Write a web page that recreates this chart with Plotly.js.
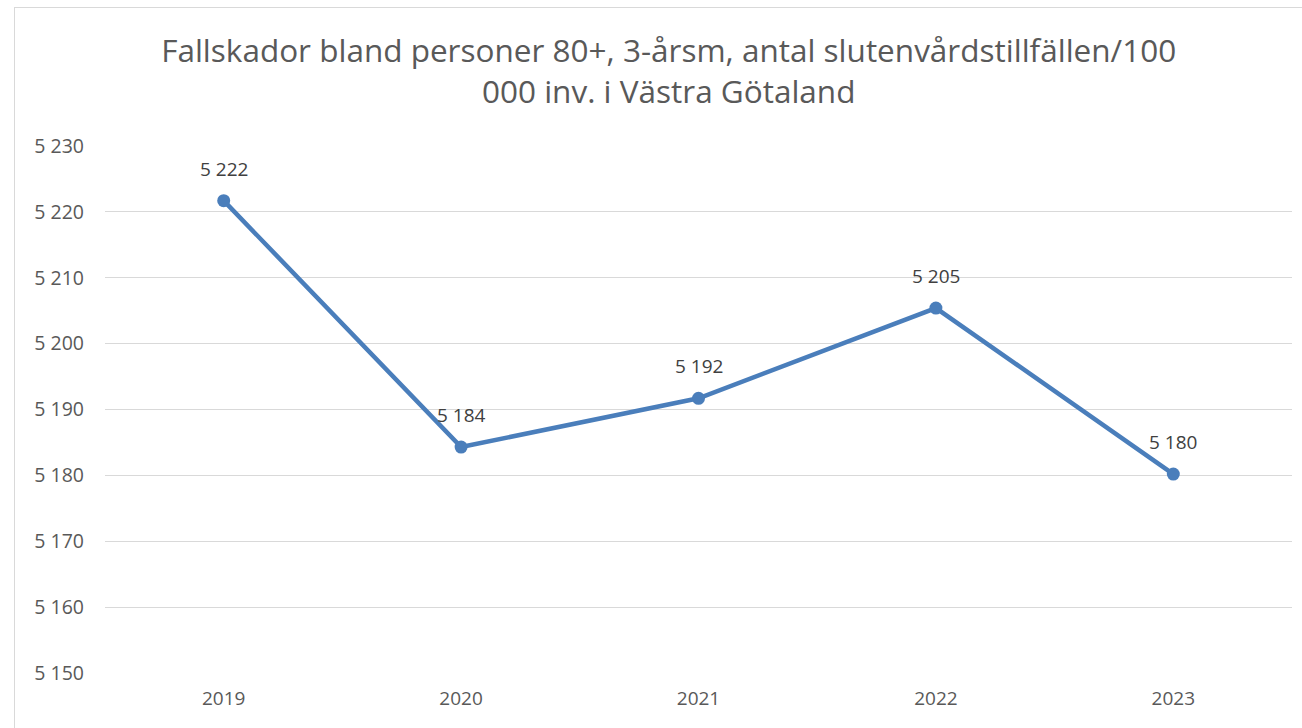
<!DOCTYPE html>
<html>
<head>
<meta charset="utf-8">
<script src="https://cdn.plot.ly/plotly-3.0.1.min.js"></script>
<style>
  body { margin: 0; overflow: hidden; background: #fff; }
  #chart { position: absolute; left: 14px; top: 7px; width: 1310px; height: 740px; border: 1px solid #d9d9d9; }
</style>
</head>
<body>
<div id="chart"></div>
<script>
var years = ['2019', '2020', '2021', '2022', '2023'];
var values = [5221.7, 5184.3, 5191.7, 5205.4, 5180.2];
var valueLabels = ['5 222', '5 184', '5 192', '5 205', '5 180'];
var yTicks = [5150, 5160, 5170, 5180, 5190, 5200, 5210, 5220, 5230];

var trace = {
  x: years,
  y: values,
  type: 'scatter',
  mode: 'lines+markers',
  line: { color: '#4a7ebb', width: 4.5 },
  marker: { color: '#4a7ebb', size: 13 },
  cliponaxis: false,
  hoverinfo: 'x+y'
};

// value labels above each point (category axis -> use the index)
var labels = valueLabels.map(function (txt, i) {
  return {
    x: i,
    y: values[i],
    xref: 'x',
    yref: 'y',
    text: txt,
    showarrow: false,
    yanchor: 'bottom',
    yshift: 17,
    font: { family: 'Open Sans', size: 19, color: '#404040' }
  };
});

var layout = {
  width: 1310,
  height: 740,
  margin: { l: 90, r: 32.5, t: 138, b: 75 },
  separators: ', ',
  paper_bgcolor: '#ffffff',
  plot_bgcolor: '#ffffff',
  showlegend: false,
  font: { family: 'Open Sans', color: '#595959' },
  title: {
    text: 'Fallskador bland personer 80+, 3-årsm, antal slutenvårdstillfällen/100<br>000 inv. i Västra Götaland',
    font: { family: 'Open Sans', size: 31.5, color: '#595959' },
    x: 0.499,
    xref: 'container',
    xanchor: 'center',
    y: 1 - 54 / 740,
    yref: 'container',
    yanchor: 'top'
  },
  annotations: labels,
  xaxis: {
    type: 'category',
    range: [-0.5, 4.5],
    showgrid: false,
    zeroline: false,
    showline: false,
    ticks: 'outside',
    ticklen: 8,
    tickcolor: 'rgba(0,0,0,0)',
    tickfont: { family: 'Open Sans', size: 19, color: '#595959' }
  },
  yaxis: {
    range: [5150, 5230],
    tickvals: yTicks,
    tickformat: ',.0f',
    showgrid: true,
    gridcolor: '#d9d9d9',
    gridwidth: 1.3,
    zeroline: false,
    showline: false,
    ticklabelstandoff: 20,
    tickfont: { family: 'Open Sans', size: 19.5, color: '#595959' }
  }
};

Plotly.newPlot('chart', [trace], layout, { displayModeBar: false });
</script>
</body>
</html>
